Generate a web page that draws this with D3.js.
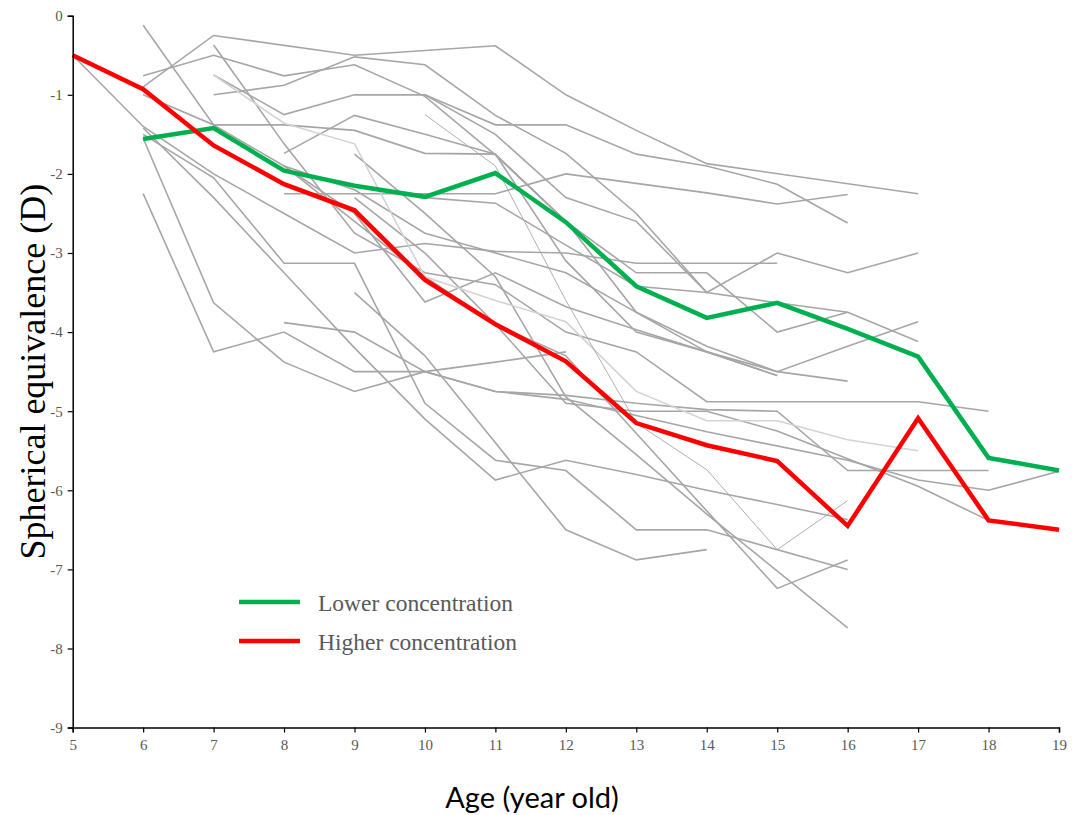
<!DOCTYPE html>
<html>
<head>
<meta charset="utf-8">
<script src="https://cdn.jsdelivr.net/npm/d3@7"></script>
<style>
  body { margin: 0; background: #fff; }
  svg { display: block; }
</style>
</head>
<body>
<div id="chart"></div>
<script>
// ages on the x axis and the two group means
var ages = [5, 6, 7, 8, 9, 10, 11, 12, 13, 14, 15, 16, 17, 18, 19];
var lowerAges = [6, 7, 8, 9, 10, 11, 12, 13, 14, 15, 16, 17, 18, 19];
var lowerConc = [-1.56, -1.42, -1.96, -2.15, -2.29, -1.99, -2.61, -3.42, -3.82, -3.63, -3.96, -4.31, -5.59, -5.75];
var higherAges = [5, 6, 7, 8, 9, 10, 11, 12, 13, 14, 15, 16, 17, 18, 19];
var higherConc = [-0.5, -0.93, -1.64, -2.13, -2.46, -3.34, -3.90, -4.37, -5.15, -5.43, -5.63, -6.45, -5.09, -6.38, -6.50];
var yTicks = [0, -1, -2, -3, -4, -5, -6, -7, -8, -9];

// individual subjects, [age, SE] pairs
var subjects = [
  [[5,-0.5],[6,-1.4],[7,-2.0],[8,-2.5],[9,-3.0],[10,-2.88],[11,-2.98],[12,-3.0],[13,-3.13],[14,-3.13],[15,-3.13]],
  [[6,-0.9],[7,-0.25],[9,-0.5],[11,-0.38],[12,-1.0],[13,-1.45],[14,-1.87],[17,-2.25]],
  [[6,-0.76],[7,-0.5],[8,-0.76],[9,-0.62],[10,-1.02],[11,-1.76],[12,-2.6],[13,-3.25],[14,-3.25],[15,-4.0],[16,-3.75]],
  [[7,-1.0],[8,-0.88],[9,-0.52],[10,-0.62],[11,-1.26],[12,-1.74],[13,-2.5],[14,-3.5],[15,-3.0],[16,-3.25],[17,-3.0]],
  [[8,-2.25],[9,-2.25],[10,-2.25],[11,-2.25],[12,-2.0],[13,-2.12],[14,-2.24],[15,-2.38],[16,-2.26]],
  [[9,-1.0],[10,-1.0],[11,-1.38],[12,-1.38],[13,-1.75],[14,-1.9],[15,-2.13],[16,-2.62]],
  [[6,-0.12],[7,-1.38],[8,-1.9],[9,-2.5],[10,-3.62],[11,-3.25],[12,-3.68],[13,-3.97],[14,-4.25],[15,-4.5],[16,-4.62]],
  [[7,-0.37],[8,-1.62],[9,-2.75],[10,-3.25],[11,-3.4],[12,-4.0],[13,-4.25],[14,-4.88],[15,-4.88],[16,-4.88],[17,-4.88],[18,-5.0]],
  [[9,-1.75],[10,-2.5],[11,-3.3],[12,-4.82],[13,-5.55],[14,-6.3],[16,-7.74]],
  [[8,-1.9],[9,-2.6],[10,-3.3],[11,-3.9],[12,-4.3],[15,-7.24],[16,-6.88]],
  [[9,-3.5],[10,-4.3],[11,-5.4],[12,-6.5],[13,-6.88],[14,-6.75]],
  [[6,-2.25],[7,-4.25],[8,-4.0],[9,-4.5],[10,-4.5],[11,-4.75],[12,-4.8],[13,-4.9],[14,-4.98],[15,-5.0],[16,-5.75],[17,-5.75],[18,-5.75]],
  [[6,-1.55],[7,-3.63],[8,-4.38],[9,-4.75],[10,-4.5],[11,-4.38],[12,-4.25]],
  [[8,-3.88],[9,-4.0],[10,-4.5],[11,-4.75],[12,-4.85],[14,-5.26],[16,-5.62],[17,-5.87],[18,-6.0],[19,-5.76]],
  [[9,-2.3],[10,-3.0],[11,-3.9],[12,-4.9],[13,-5.0],[14,-5.0],[15,-5.25],[16,-5.6],[17,-5.95],[18,-6.38]],
  [[9,-2.15],[10,-2.3],[11,-2.37],[12,-2.9],[13,-3.42],[14,-3.5],[15,-3.63],[16,-3.75],[17,-4.12]],
  [[8,-1.9],[9,-2.2],[10,-2.75],[11,-3.0],[12,-3.25],[13,-3.75],[14,-4.18],[15,-4.5],[16,-4.18],[17,-3.87]],
  [[6,-1.42],[7,-2.3],[8,-3.25],[9,-4.2],[10,-5.1],[11,-5.87],[12,-5.62],[13,-5.8],[14,-6.0],[15,-6.18],[16,-6.37]],
  [[6,-1.5],[7,-2.05],[8,-3.13],[9,-3.13],[10,-4.9],[11,-5.62],[12,-5.75],[13,-6.5],[14,-6.5],[16,-7.0]],
  [[6,-1.0],[7,-1.38],[8,-1.38],[9,-1.45],[10,-1.74],[11,-1.75],[12,-3.1],[13,-4.0],[14,-4.25],[15,-4.55]],
  [[8,-1.74],[9,-1.26],[10,-1.5],[11,-1.75],[12,-2.6],[13,-3.75],[14,-4.25],[15,-4.55]],
  [[7,-0.75],[8,-1.25],[9,-1.0],[10,-1.0],[11,-1.5],[12,-2.3],[13,-2.6],[14,-3.5]]
];
var lightSubjects = [
  [[7,-0.75],[8,-1.36],[9,-1.62],[10,-3.3],[11,-3.6],[12,-3.87],[13,-4.75],[14,-5.12],[15,-5.12],[16,-5.36],[17,-5.5]]
];
var thinSubjects = [
  [[10,-1.25],[11,-1.9],[12,-3.6],[13,-5.15],[14,-5.74],[15,-6.75],[16,-6.13]]
];

var W = 1083, H = 815;
var serif = "'Liberation Serif', 'Times New Roman', serif";
var svg = d3.select("#chart").append("svg").attr("width", W).attr("height", H);

var x = d3.scaleLinear().domain([5, 19]).range([72.7, 1059]);
var y = d3.scaleLinear().domain([0, -9]).range([15.7, 727.6]);

var line = d3.line().x(function(d) { return x(d[0]); }).y(function(d) { return y(d[1]); });

// grey spaghetti
var g = svg.append("g");
g.selectAll("path.subj").data(subjects).enter().append("path")
  .attr("class", "subj").attr("d", line)
  .attr("fill", "none").attr("stroke", "#a6a6a6").attr("stroke-width", 1.6);
g.selectAll("path.light").data(lightSubjects).enter().append("path")
  .attr("class", "light").attr("d", line)
  .attr("fill", "none").attr("stroke", "#d3d3d3").attr("stroke-width", 1.6);
g.selectAll("path.thin").data(thinSubjects).enter().append("path")
  .attr("class", "thin").attr("d", line)
  .attr("fill", "none").attr("stroke", "#a6a6a6").attr("stroke-width", 0.9);

// group means
var means = [
  { pts: d3.zip(lowerAges, lowerConc), color: "#00b050" },
  { pts: d3.zip(higherAges, higherConc), color: "#ff0000" }
];
svg.selectAll("path.mean").data(means).enter().append("path")
  .attr("class", "mean")
  .attr("d", function(d) { return line(d.pts); })
  .attr("fill", "none").attr("stroke", function(d) { return d.color; })
  .attr("stroke-width", 4.5).attr("stroke-linejoin", "miter");

// axes (plain hyphen for negatives, as in the original)
var fmt = function(d) { return String(d); };
var xAxis = svg.append("g").attr("transform", "translate(0," + y(-9) + ")")
  .call(d3.axisBottom(x).tickValues(ages).tickSize(5).tickPadding(7).tickFormat(fmt));
var yAxis = svg.append("g").attr("transform", "translate(" + x(5) + ",0)")
  .call(d3.axisLeft(y).tickValues(yTicks).tickSize(5).tickPadding(5).tickFormat(fmt));
[xAxis, yAxis].forEach(function(a) {
  a.attr("font-family", serif).attr("font-size", 15);
  a.select(".domain").attr("stroke", "#000").attr("stroke-width", 1.5);
  a.selectAll(".tick line").attr("stroke", "#000").attr("stroke-width", 1.2);
  a.selectAll(".tick text").attr("fill", "#595959");
});

// axis titles
svg.append("text")
  .attr("transform", "translate(45," + ((y(0) + y(-9)) / 2) + ") rotate(-90)")
  .attr("text-anchor", "middle")
  .attr("font-family", serif)
  .attr("font-size", 36).attr("fill", "#000")
  .text("Spherical equivalence (D)");
svg.append("text")
  .attr("x", 532).attr("y", 808)
  .attr("text-anchor", "middle")
  .attr("font-family", "Lato, 'Open Sans', sans-serif")
  .attr("font-size", 29).attr("fill", "#000")
  .text("Age (year old)");

// legend
var legendItems = ["Lower concentration", "Higher concentration"];
var legend = svg.selectAll("g.legend").data(legendItems).enter().append("g")
  .attr("class", "legend")
  .attr("transform", function(d, i) { return "translate(239," + (602 + i * 39) + ")"; });
legend.append("line").attr("x1", 0).attr("x2", 61).attr("y1", 0).attr("y2", 0)
  .attr("stroke", function(d, i) { return means[i].color; }).attr("stroke-width", 4.5);
legend.append("text").attr("x", 79).attr("y", 0).attr("dy", "0.38em")
  .attr("font-family", serif)
  .attr("font-size", 23.5).attr("fill", "#595959")
  .text(function(d) { return d; });
</script>
</body>
</html>
